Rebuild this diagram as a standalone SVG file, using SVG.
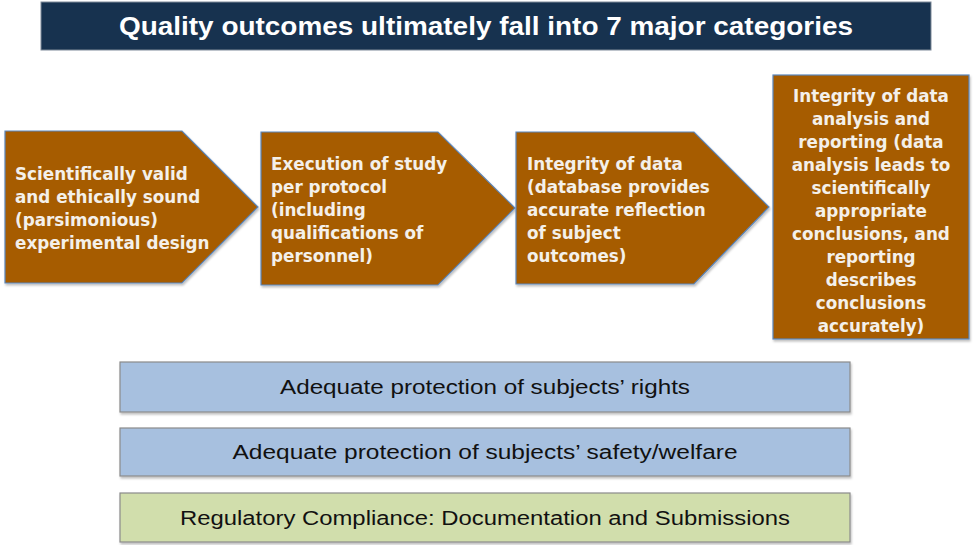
<svg xmlns="http://www.w3.org/2000/svg" width="975" height="545" viewBox="0 0 975 545">
<style>
.chev{fill:#a65b03;stroke:#5b87bd;stroke-width:1.2;filter:url(#sh)}
.ct{font-family:"DejaVu Sans",sans-serif;font-weight:bold;font-size:16.8px;fill:#f4f0ea}
.bar{stroke:#8a8a8a;stroke-width:1.2;filter:url(#sh)}
.bt{font-family:"Liberation Sans",Arial,sans-serif;font-size:20px;fill:#111;text-anchor:middle}
.title{font-family:"Liberation Sans",Arial,sans-serif;font-weight:bold;font-size:25px;fill:#fff;text-anchor:middle}
</style>
<defs>
<filter id="sh" x="-5%" y="-5%" width="110%" height="115%">
<feDropShadow dx="1" dy="2" stdDeviation="1.2" flood-color="#000" flood-opacity="0.25"/>
</filter>
</defs>
<rect width="975" height="545" fill="#fff"/>
<g id="title">
<rect x="41" y="2" width="890" height="48" fill="#17324f" stroke="#7f8a99" stroke-width="1"/>
<text class="title" x="486" y="35" textLength="734" lengthAdjust="spacingAndGlyphs">Quality outcomes ultimately fall into 7 major categories</text>
</g>
<g id="connectors"></g>
<g id="n1">
<polygon class="chev" points="5,131 182,131 258,207 182,283 5,283"/>
<text class="ct"><tspan x="15" y="180">Scientifically valid</tspan><tspan x="15" y="203">and ethically sound</tspan><tspan x="15" y="226">(parsimonious)</tspan><tspan x="15" y="249">experimental design</tspan></text>
</g>
<g id="n2">
<polygon class="chev" points="261,132 438,132 515,208 438,285 261,285"/>
<text class="ct"><tspan x="271" y="170">Execution of study</tspan><tspan x="271" y="193">per protocol</tspan><tspan x="271" y="216">(including</tspan><tspan x="271" y="239">qualifications of</tspan><tspan x="271" y="262">personnel)</tspan></text>
</g>
<g id="n3">
<polygon class="chev" points="516,132 694,132 769,207 694,284 516,284"/>
<text class="ct"><tspan x="527" y="170">Integrity of data</tspan><tspan x="527" y="193">(database provides</tspan><tspan x="527" y="216">accurate reflection</tspan><tspan x="527" y="239">of subject</tspan><tspan x="527" y="262">outcomes)</tspan></text>
</g>
<g id="n4">
<rect class="chev" x="773" y="75" width="196" height="264"/>
<text class="ct" text-anchor="middle"><tspan x="871" y="102">Integrity of data</tspan><tspan x="871" y="125">analysis and</tspan><tspan x="871" y="148">reporting (data</tspan><tspan x="871" y="171">analysis leads to</tspan><tspan x="871" y="194">scientifically</tspan><tspan x="871" y="217">appropriate</tspan><tspan x="871" y="240">conclusions, and</tspan><tspan x="871" y="263">reporting</tspan><tspan x="871" y="286">describes</tspan><tspan x="871" y="309">conclusions</tspan><tspan x="871" y="332">accurately)</tspan></text>
</g>
<g id="b1">
<rect class="bar" x="120" y="362" width="730" height="50" fill="#a7c0df"/>
<text class="bt" x="485" y="394" textLength="410" lengthAdjust="spacingAndGlyphs">Adequate protection of subjects’ rights</text>
</g>
<g id="b2">
<rect class="bar" x="120" y="428" width="730" height="48" fill="#a7c0df"/>
<text class="bt" x="485" y="459" textLength="505" lengthAdjust="spacingAndGlyphs">Adequate protection of subjects’ safety/welfare</text>
</g>
<g id="b3">
<rect class="bar" x="120" y="493" width="730" height="49" fill="#d1deac"/>
<text class="bt" x="485" y="525" textLength="610" lengthAdjust="spacingAndGlyphs">Regulatory Compliance: Documentation and Submissions</text>
</g>
</svg>
